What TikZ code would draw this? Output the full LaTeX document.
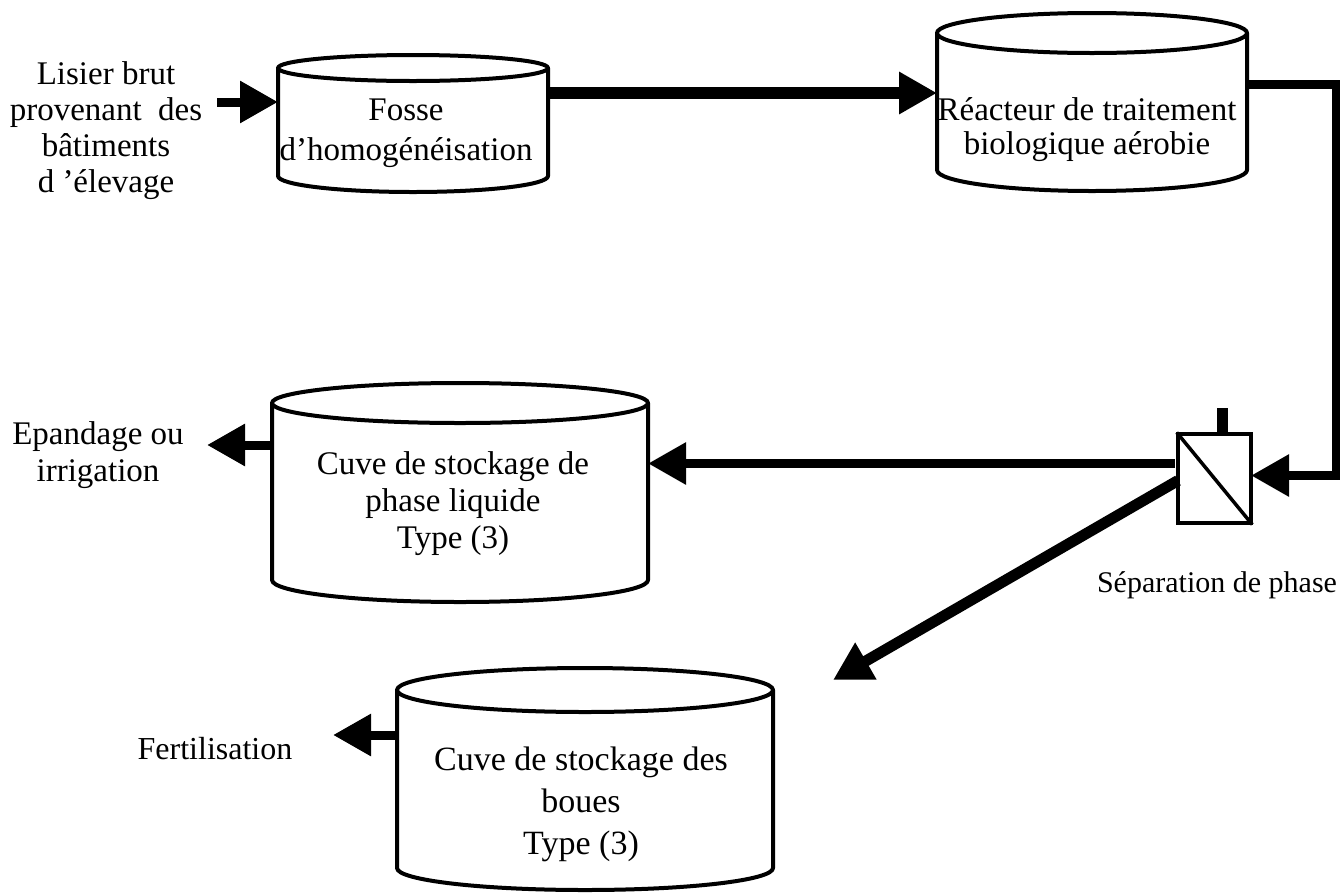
\documentclass[tikz,border=0pt]{standalone}
\usepackage{fontspec}
\setmainfont{Liberation Serif}
\usetikzlibrary{arrows.meta,calc}
\tikzset{
  body/.style={inner sep=0pt, outer sep=0pt, draw=none},
  tankline/.style={line width=4pt, line join=round},
  lbl/.style={align=center, inner sep=0pt, font=\fontsize{33}{37}\selectfont},
  flow/.style={line width=10pt, -{Triangle[length=38pt,width=40pt]}},
  sepbox/.style={draw, line width=4pt, inner sep=0pt, outer sep=0pt, minimum width=73pt, minimum height=89pt}
}
% #1 name, #2 x radius (pt), #3 top y radius, #4 bottom y radius
\newcommand{\tankoutline}[4]{%
  \draw[tankline] (#1.north west) -- (#1.south west)
     arc[start angle=180, end angle=360, x radius=#2pt, y radius=#4pt] -- (#1.north east);
  \draw[tankline, fill=white] (#1.north) ellipse[x radius=#2pt, y radius=#3pt];
}
\begin{document}
\begin{tikzpicture}[x=1pt, y=-1pt]
\useasboundingbox (0,0) rectangle (1340,892);

% tanks (bodies)
\node[body, minimum width=270pt, minimum height=108pt] (fosse) at (413,122) {};
\node[body, minimum width=310pt, minimum height=137pt] (reactor) at (1092,101.5) {};
\node[body, minimum width=376pt, minimum height=177pt] (liquid) at (460,491.5) {};
\node[body, minimum width=376pt, minimum height=178pt] (boues) at (585,779) {};
\tankoutline{fosse}{135}{13}{16}
\tankoutline{reactor}{155}{20}{21}
\tankoutline{liquid}{188}{20}{22}
\tankoutline{boues}{188}{22}{22}

% separator
\node[sepbox] (sep) at (1214.5,478.5) {};
\draw[line width=3.5pt, shorten <=-2pt, shorten >=-2pt] (sep.north west) -- (sep.south east);
\draw[line width=11pt] ([xshift=8pt]sep.north) -- ++(0,-26);

% texts
\node[lbl, font=\fontsize{33}{36}\selectfont] (lisier) at (106,131) {Lisier brut\\provenant~ des\\bâtiments\\d ’élevage};
\node[lbl, font=\fontsize{33}{40}\selectfont] (fosseT) at (406,133) {Fosse\\d’homogénéisation};
\node[lbl, font=\fontsize{33}{34}\selectfont] (reactT) at (1087,130) {Réacteur de traitement\\biologique aérobie};
\node[lbl, font=\fontsize{30}{34}\selectfont] (sepT) at (1217,585) {Séparation de phase};
\node[lbl] (liqT) at (453,504) {Cuve de stockage de\\phase liquide\\Type (3)};
\node[lbl, font=\fontsize{34}{42}\selectfont] (bouesT) at (581,804) {Cuve de stockage des\\boues\\Type (3)};
\node[lbl] (epand) at (98,455) {Epandage ou\\irrigation};
\node[lbl, font=\fontsize{32}{36}\selectfont] (fert) at (215,749) {Fertilisation};

% connectors
\coordinate (inStart) at (217,102);
\draw[flow, line width=9pt] (inStart) -- (inStart -| fosse.west);

\coordinate (f1) at ([yshift=29pt]fosse.east);
\draw[flow, line width=12pt] (f1) -- (f1 -| reactor.west);

\draw[flow, line width=9pt] ([yshift=17.5pt]reactor.east) -| ([xshift=85pt,yshift=3pt]sep.east) -- ([yshift=3pt]sep.east);

\coordinate (s1) at ([yshift=15pt,xshift=-3pt]sep.west);
\draw[flow, line width=9pt] (s1) -- (s1 -| liquid.east);

\coordinate (sTip) at (833,680);
\draw[flow, line width=11pt] ([yshift=-2pt]sep.west) -- (sTip);

\coordinate (l1) at ([yshift=46.5pt]liquid.west);
\coordinate (epTip) at (207,445);
\draw[flow, line width=9pt] (l1) -- (epTip);

\coordinate (b1) at ([yshift=44pt]boues.west);
\coordinate (fTip) at (333,735);
\draw[flow, line width=9pt] (b1) -- (fTip);
\end{tikzpicture}
\end{document}
